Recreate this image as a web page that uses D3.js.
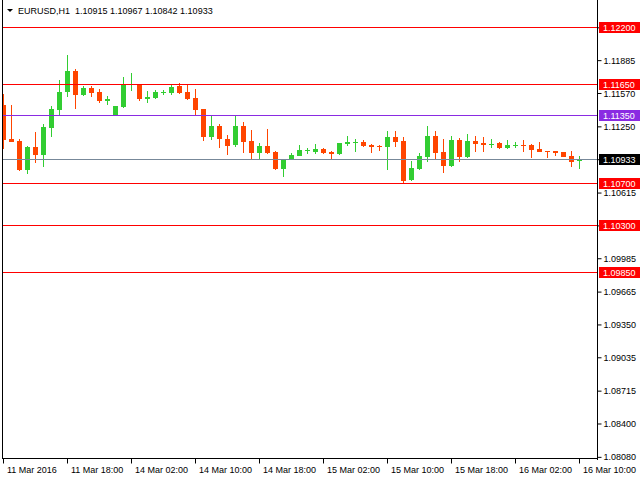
<!DOCTYPE html>
<html><head><meta charset="utf-8">
<script src="https://cdn.jsdelivr.net/npm/d3@7"></script>
<style>
html,body{margin:0;padding:0;background:#fff;}
svg{display:block;font-family:"Liberation Sans",Arial,sans-serif;}
</style></head>
<body>
<svg id="c" width="640" height="480"></svg>
<script>
const symbolTitle = "EURUSD,H1";
const headerOHLC = ["1.10915","1.10967","1.10842","1.10933"];

const open = [1.11455,1.11129,1.11110,1.10834,1.11052,1.10975,1.11237,1.11407,1.11579,1.11781,
1.11551,1.11618,1.11579,1.11493,1.11347,1.11436,1.11647,1.11647,1.11512,1.11522,
1.11570,1.11570,1.11637,1.11579,1.11522,1.11416,1.11148,1.11253,1.11129,1.11071,
1.11253,1.11110,1.10994,1.11062,1.11004,1.10841,1.10937,1.10966,1.11014,1.11004,
1.11033,1.11004,1.10985,1.11081,1.11090,1.11100,1.11071,1.11062,1.11052,1.11148,
1.11110,1.10735,1.10841,1.10956,1.11158,1.11004,1.10870,1.11119,1.10956,1.11110,
1.11090,1.11071,1.11090,1.11042,1.11062,1.11071,1.11071,1.11033,1.11014,1.11014,
1.11004,1.10966,1.10915];
const high = [1.11560,1.11455,1.11129,1.11062,1.11196,1.11273,1.11445,1.11695,1.11934,1.11800,
1.11637,1.11637,1.11608,1.11541,1.11450,1.11723,1.11762,1.11656,1.11589,1.11599,
1.11599,1.11647,1.11666,1.11647,1.11608,1.11420,1.11359,1.11273,1.11167,1.11345,
1.11292,1.11215,1.11090,1.11225,1.11009,1.10937,1.10994,1.11071,1.11042,1.11081,
1.11042,1.11014,1.11090,1.11158,1.11129,1.11119,1.11081,1.11071,1.11205,1.11205,
1.11148,1.10918,1.10994,1.11253,1.11205,1.11129,1.11158,1.11138,1.11177,1.11158,
1.11148,1.11129,1.11100,1.11119,1.11100,1.11119,1.11081,1.11100,1.11014,1.11014,
1.11004,1.11014,1.10967];
const low = [1.11036,1.11100,1.10825,1.10796,1.10901,1.10863,1.11151,1.11349,1.11532,1.11416,
1.11541,1.11532,1.11474,1.11455,1.11345,1.11430,1.11589,1.11493,1.11474,1.11512,
1.11551,1.11551,1.11560,1.11503,1.11349,1.11110,1.11119,1.11042,1.10975,1.11052,
1.10994,1.10937,1.10937,1.10985,1.10831,1.10764,1.10927,1.10961,1.10985,1.10985,
1.10985,1.10937,1.10975,1.11062,1.11004,1.11052,1.10994,1.11014,1.10831,1.11052,
1.10707,1.10726,1.10836,1.10908,1.10937,1.10803,1.10860,1.10908,1.10951,1.11004,
1.11004,1.11042,1.11033,1.11033,1.11042,1.11004,1.10946,1.11004,1.10946,1.10966,
1.10956,1.10860,1.10842];
const close = [1.11122,1.11103,1.10834,1.11052,1.10975,1.11244,1.11416,1.11579,1.11781,1.11551,
1.11618,1.11570,1.11493,1.11512,1.11445,1.11647,1.11655,1.11512,1.11532,1.11579,
1.11579,1.11628,1.11570,1.11512,1.11407,1.11148,1.11253,1.11129,1.11062,1.11253,
1.11100,1.10994,1.11062,1.10994,1.10841,1.10937,1.10975,1.11023,1.11023,1.11033,
1.10994,1.10985,1.11090,1.11100,1.11100,1.11062,1.11052,1.11052,1.11148,1.11100,
1.10726,1.10851,1.10966,1.11158,1.10994,1.10870,1.11119,1.10956,1.11110,1.11081,
1.11071,1.11081,1.11042,1.11071,1.11071,1.11062,1.11023,1.11004,1.11004,1.10994,
1.10956,1.10908,1.10933];

const timeTickIndex = [0,8,16,24,32,40,48,56,64,72];
const timeTickLabels = ["11 Mar 2016","11 Mar 18:00","14 Mar 02:00","14 Mar 10:00","14 Mar 18:00","15 Mar 02:00","15 Mar 10:00","15 Mar 18:00","16 Mar 02:00","16 Mar 10:00"];
const priceTicks = [1.08080,1.08400,1.08715,1.09035,1.09350,1.09665,1.09985,1.10300,1.10615,1.10935,1.11250,1.11570,1.11885,1.12200];
const levelPrices = [1.12200,1.11650,1.11350,1.10700,1.10300,1.09850];
const levelKinds  = ["red","red","purple","red","red","red"];
const bidPrice = 1.10933;

const svg = d3.select("#c");
const L = 2, R = 597, B = 458;
const y = d3.scaleLinear().domain([1.08069, 1.12462]).range([B, 0]);
const x = d3.scaleLinear().domain([0, 72]).range([3.5, 579.5]);
const colors = {red:"#FF0000", purple:"#8A2BE2"};
const up = "#32CD32", dn = "#FF4500";

svg.append("defs").append("clipPath").attr("id","plot")
  .append("rect").attr("x",L+1).attr("y",0).attr("width",R-L-1).attr("height",B);

const idx = d3.range(open.length);
const g = svg.append("g").attr("clip-path","url(#plot)");
const py = v => Math.round(y(v));
g.selectAll(".wick").data(idx).join("rect")
  .attr("x", i => Math.round(x(i) - 0.5))
  .attr("y", i => py(high[i]))
  .attr("width", 1)
  .attr("height", i => Math.max(1, py(low[i]) - py(high[i])))
  .attr("fill", i => close[i] >= open[i] ? up : dn);
g.selectAll(".body").data(idx).join("rect")
  .attr("x", i => Math.round(x(i) - 2.5))
  .attr("y", i => py(Math.max(open[i], close[i])))
  .attr("width", 5)
  .attr("height", i => Math.max(1, py(Math.min(open[i], close[i])) - py(Math.max(open[i], close[i]))))
  .attr("fill", i => close[i] >= open[i] ? up : dn);

// levels
const lv = svg.append("g");
levelPrices.forEach((p, k) => {
  const yy = Math.floor(y(p)) + 0.5;
  lv.append("line").attr("x1", L).attr("x2", R).attr("y1", yy).attr("y2", yy)
    .attr("stroke", colors[levelKinds[k]]).attr("stroke-width", 1);
});
const by = Math.floor(y(bidPrice)) + 0.5;
lv.append("line").attr("x1", L).attr("x2", R).attr("y1", by).attr("y2", by)
  .attr("stroke", "#778899").attr("stroke-width", 1);

// frame
svg.append("line").attr("x1", L+0.5).attr("x2", L+0.5).attr("y1", 0).attr("y2", B+0.5).attr("stroke","#000");
svg.append("line").attr("x1", R+0.5).attr("x2", R+0.5).attr("y1", 0).attr("y2", B+2).attr("stroke","#000");
svg.append("line").attr("x1", L).attr("x2", R+1).attr("y1", B+0.5).attr("y2", B+0.5).attr("stroke","#000");

// price axis
const ay = svg.append("g").attr("transform", `translate(${R+0.5},0)`)
  .call(d3.axisRight(y).tickValues(priceTicks).tickSize(4).tickPadding(2).tickFormat(d3.format(".5f")));
ay.select(".domain").remove();
ay.selectAll("text").attr("font-size", 9).attr("font-family","Liberation Sans, Arial, sans-serif").attr("fill","#000").attr("dy","0.34em");
ay.selectAll("line").attr("stroke","#000");

// time axis
const ax = svg.append("g").attr("transform", `translate(0,${B+0.5})`)
  .call(d3.axisBottom(x).tickValues(timeTickIndex).tickSize(5)
    .tickFormat((d, k) => timeTickLabels[k]));
ax.select(".domain").remove();
ax.selectAll("line").attr("stroke","#000").attr("transform","translate(-0.5,0)");
ax.selectAll("text").attr("font-size", 9).attr("font-family","Liberation Sans, Arial, sans-serif")
  .attr("fill","#000").attr("text-anchor","start").attr("x", 3).attr("y", 14).attr("dy", 0);

// price tags
function tag(p, fill) {
  const yy = Math.floor(y(p));
  svg.append("rect").attr("x", R+2).attr("y", yy-5).attr("width", 640-R-2).attr("height", 11).attr("fill", fill);
  svg.append("text").attr("x", 603).attr("y", yy+3.5).attr("font-size", 9).attr("fill","#fff")
    .text(d3.format(".5f")(p));
}
levelPrices.forEach((p, k) => tag(p, colors[levelKinds[k]]));
tag(bidPrice, "#000");

// header
svg.append("path").attr("d","M7,9 L13,9 L10,12 Z").attr("fill","#000");
svg.append("text").attr("x", 18).attr("y", 14).attr("font-size", 9).attr("fill","#000")
  .attr("xml:space","preserve")
  .text(symbolTitle + "  " + headerOHLC.join(" "));
</script>
</body></html>
